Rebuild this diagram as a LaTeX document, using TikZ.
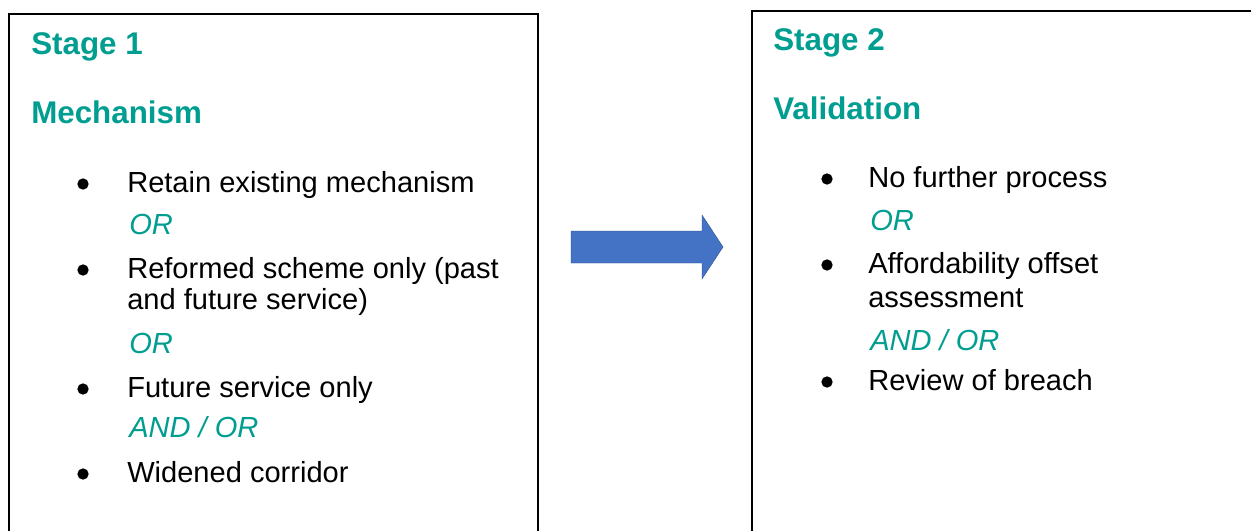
\documentclass[tikz,border=0pt]{standalone}
\usepackage{fontspec}
\setmainfont{Liberation Sans}
\definecolor{stageteal}{RGB}{0,158,144}
\definecolor{arrowblue}{RGB}{68,114,196}
\definecolor{arrowedge}{RGB}{47,82,143}
\tikzset{
  stagehead/.style={anchor=base west,inner sep=0pt,text=stageteal,font=\fontsize{23.5}{28}\selectfont\bfseries},
  itemtext/.style={anchor=base west,inner sep=0pt,font=\fontsize{21.8}{26}\selectfont},
  joiner/.style={anchor=base west,inner sep=0pt,text=stageteal,font=\fontsize{21.8}{26}\selectfont\itshape},
  bulletdot/.style={circle,fill=black,inner sep=0pt,minimum size=8.5pt},
}
\begin{document}
\begin{tikzpicture}[x=0.75pt,y=-0.75pt,line join=miter]
  % page frame: boxes run off the bottom and right edge
  \clip (0,0) rectangle (1251,531);
  \fill[white] (0,0) rectangle (1251,531);
  \coordinate (A) at (9,14);
  \coordinate (B) at (538,600);
  \coordinate (C) at (752,11);
  \coordinate (D) at (1320,600);
  % stage outlines
  \draw[line width=1.5pt] (A) rectangle (B);
  \draw[line width=1.5pt] (C) rectangle (D);
  % stage 1
  \node[stagehead] (s1) at (31,55) {Stage 1};
  \node[stagehead] (mech) at (31,124) {Mechanism};
  \foreach \y in {184,270,389,474}{\node[bulletdot] at (83,\y) {};}
  \node[itemtext] (retain) at (127,192) {Retain existing mechanism};
  \node[joiner] (or1) at (129,234) {OR};
  \node[itemtext] (reform) at (127,278) {Reformed scheme only (past};
  \node[itemtext] (reformb) at (127,309) {and future service)};
  \node[joiner] (or2) at (129,353) {OR};
  \node[itemtext] (future) at (127,397) {Future service only};
  \node[joiner] (andor1) at (129,437) {AND / OR};
  \node[itemtext] (widen) at (127,482) {Widened corridor};
  % block arrow
  \fill[arrowblue,draw=arrowedge,line width=0.3pt]
    (571,231)--(702,231)--(702,215)--(723,247)--(702,279)--(702,263)--(571,263)--cycle;
  % stage 2
  \node[stagehead] (s2) at (773,51) {Stage 2};
  \node[stagehead] (valid) at (773,120) {Validation};
  \foreach \y in {179,265,382}{\node[bulletdot] at (827,\y) {};}
  \node[itemtext] (nofurther) at (868,187) {No further process};
  \node[joiner] (or3) at (870,230) {OR};
  \node[itemtext] (afford) at (868,273) {Affordability offset};
  \node[itemtext] (affordb) at (868,307) {assessment};
  \node[joiner] (andor2) at (870,350) {AND / OR};
  \node[itemtext] (review) at (868,390) {Review of breach};
\end{tikzpicture}
\end{document}
